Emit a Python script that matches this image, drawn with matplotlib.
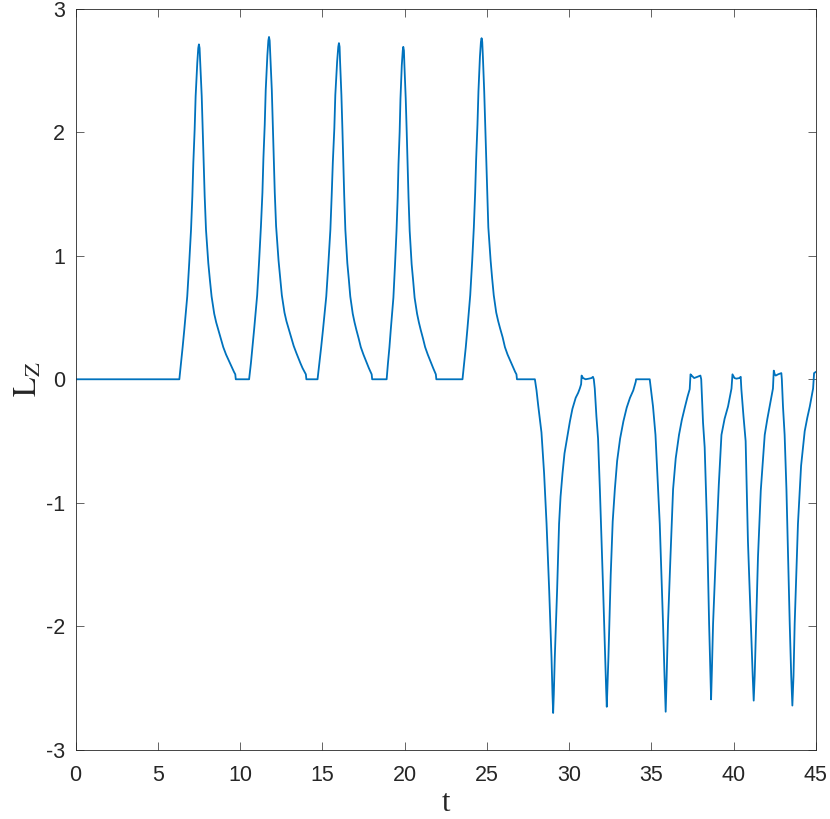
import numpy as np
import matplotlib
matplotlib.use('Agg')
import matplotlib.pyplot as plt

plt.rcParams['axes.unicode_minus'] = False
plt.rcParams['mathtext.fontset'] = 'stix'

# flat start + 5 positive spikes
t_pos = [0.00, 6.31,
         6.41, 6.51, 6.61, 6.79, 6.91, 7.02, 7.10, 7.16, 7.24, 7.30, 7.40, 7.46, 7.50,
         7.54, 7.58, 7.67, 7.73, 7.85, 7.93, 8.07, 8.27, 8.43, 8.68, 8.98, 9.39, 9.63, 9.71, 9.74,
         10.55, 10.66, 10.76, 10.86, 11.04, 11.16, 11.27, 11.36, 11.42, 11.50, 11.56, 11.66, 11.72, 11.76,
         11.80, 11.84, 11.93, 11.99, 12.11, 12.19, 12.34, 12.54, 12.70, 12.95, 13.26, 13.67, 13.92, 14.00, 14.03,
         14.71, 14.82, 14.93, 15.04, 15.24, 15.37, 15.49, 15.57, 15.64, 15.73, 15.79, 15.90, 15.97, 16.01,
         16.05, 16.08, 16.16, 16.22, 16.33, 16.40, 16.52, 16.70, 16.85, 17.07, 17.34, 17.71, 17.93, 18.00, 18.03,
         18.91, 18.99, 19.08, 19.16, 19.32, 19.42, 19.51, 19.58, 19.63, 19.70, 19.75, 19.83, 19.89, 19.92,
         19.96, 19.99, 20.07, 20.13, 20.24, 20.31, 20.43, 20.61, 20.76, 20.98, 21.25, 21.62, 21.84, 21.90, 21.93,
         23.52, 23.62, 23.72, 23.82, 23.99, 24.11, 24.21, 24.29, 24.35, 24.43, 24.49, 24.58, 24.64, 24.68,
         24.72, 24.76, 24.84, 24.90, 25.02, 25.09, 25.23, 25.42, 25.57, 25.81, 26.10, 26.49, 26.72, 26.80, 26.83,
         27.92]
L_pos = [0.00, 0.00,
         0.13, 0.26, 0.40, 0.67, 0.94, 1.21, 1.48, 1.75, 2.02, 2.29, 2.56, 2.68, 2.71,
         2.68, 2.56, 2.29, 2.02, 1.48, 1.21, 0.94, 0.67, 0.53, 0.40, 0.26, 0.13, 0.06, 0.04, 0.00,
         0.00, 0.13, 0.27, 0.41, 0.68, 0.96, 1.24, 1.51, 1.79, 2.06, 2.34, 2.62, 2.74, 2.77,
         2.74, 2.62, 2.34, 2.06, 1.51, 1.24, 0.96, 0.68, 0.54, 0.41, 0.27, 0.13, 0.06, 0.04, 0.00,
         0.00, 0.13, 0.26, 0.40, 0.67, 0.94, 1.21, 1.49, 1.76, 2.03, 2.30, 2.57, 2.69, 2.72,
         2.69, 2.57, 2.30, 2.03, 1.49, 1.21, 0.94, 0.67, 0.53, 0.40, 0.26, 0.13, 0.06, 0.04, 0.00,
         0.00, 0.13, 0.26, 0.40, 0.66, 0.93, 1.20, 1.47, 1.74, 2.00, 2.27, 2.54, 2.66, 2.69,
         2.66, 2.54, 2.27, 2.00, 1.47, 1.20, 0.93, 0.66, 0.53, 0.40, 0.26, 0.13, 0.06, 0.04, 0.00,
         0.00, 0.13, 0.26, 0.41, 0.68, 0.96, 1.23, 1.51, 1.78, 2.06, 2.33, 2.61, 2.73, 2.76,
         2.73, 2.61, 2.33, 2.06, 1.51, 1.23, 0.96, 0.68, 0.54, 0.41, 0.26, 0.13, 0.06, 0.04, 0.00,
         0.00]

# extra readings on the slow tails of the positive spikes
t_tail = [8.17, 8.55, 8.83, 9.15, 9.52,
          12.44, 12.82, 13.10, 13.43, 13.80,
          16.61, 16.96, 17.21, 17.50, 17.83,
          20.52, 20.87, 21.12, 21.41, 21.74,
          25.32, 25.69, 25.96, 26.26, 26.62]
L_tail = [0.80, 0.46, 0.33, 0.20, 0.09,
          0.82, 0.47, 0.34, 0.21, 0.09,
          0.81, 0.46, 0.33, 0.20, 0.09,
          0.80, 0.46, 0.33, 0.20, 0.09,
          0.82, 0.47, 0.34, 0.20, 0.09]

# 6 negative spikes
t_neg = [28.02, 28.12, 28.32, 28.48, 28.63, 28.79, 28.93, 28.99, 29.03, 29.07, 29.13, 29.27, 29.39,
         29.48, 29.60, 29.72, 29.90, 30.05, 30.20, 30.40, 30.55, 30.65, 30.73, 30.76, 30.85, 31.00,
         31.20, 31.36, 31.45, 31.50,
         31.56, 31.66, 31.76, 31.87, 32.07, 32.19, 32.25, 32.29, 32.33, 32.39, 32.53, 32.65, 32.78,
         32.92, 33.10, 33.30, 33.50, 33.70, 33.90, 34.05, 34.07, 34.90,
         35.10, 35.25, 35.51, 35.71, 35.80, 35.87, 35.93, 36.01, 36.16, 36.32, 36.48, 36.68, 36.85,
         37.03, 37.20, 37.33, 37.38, 37.45, 37.60, 37.80, 37.98, 38.03,
         38.14, 38.24, 38.38, 38.51, 38.58, 38.63, 38.68, 38.75, 38.95, 39.10, 39.26, 39.45, 39.66,
         39.87, 39.93, 40.05, 40.17, 40.35, 40.43, 40.47,
         40.60, 40.73, 40.87, 41.08, 41.16, 41.22, 41.28, 41.34, 41.48, 41.65, 41.89, 42.05, 42.19,
         42.39, 42.44, 42.50, 42.56, 42.70, 42.90, 42.93,
         43.00, 43.10, 43.21, 43.41, 43.50, 43.57, 43.64, 43.71, 43.91, 44.10, 44.32, 44.48, 44.63,
         44.83, 44.89, 45.00]
L_neg = [-0.09, -0.21, -0.43, -0.76, -1.17, -1.71, -2.25, -2.55, -2.70, -2.55, -2.25, -1.71, -1.17,
         -0.95, -0.76, -0.60, -0.46, -0.34, -0.24, -0.15, -0.11, -0.075, -0.04, 0.03, 0.01, 0.00,
         0.005, 0.01, 0.02, 0.00,
         -0.075, -0.30, -0.48, -0.89, -1.71, -2.25, -2.50, -2.65, -2.50, -2.25, -1.58, -1.15, -0.89,
         -0.66, -0.48, -0.34, -0.23, -0.15, -0.09, -0.02, 0.00, 0.00,
         -0.22, -0.45, -1.17, -1.98, -2.40, -2.69, -2.40, -1.98, -1.44, -0.89, -0.64, -0.45, -0.33,
         -0.23, -0.14, -0.08, 0.04, 0.03, 0.01, 0.02, 0.03, 0.00,
         -0.35, -0.55, -1.17, -1.98, -2.35, -2.59, -2.35, -1.98, -1.31, -0.85, -0.45, -0.32, -0.22,
         -0.075, 0.04, 0.01, 0.005, 0.01, 0.02, -0.08,
         -0.30, -0.50, -1.31, -2.11, -2.40, -2.60, -2.40, -2.11, -1.44, -0.90, -0.45, -0.32, -0.22,
         -0.075, 0.07, 0.04, 0.03, 0.04, 0.05, 0.00,
         -0.22, -0.45, -0.89, -1.98, -2.40, -2.64, -2.40, -1.98, -1.17, -0.70, -0.42, -0.31, -0.22,
         -0.075, 0.05, 0.06]

t = np.array(t_pos + t_tail + t_neg)
L = np.array(L_pos + L_tail + L_neg)
order = np.argsort(t, kind='stable')
t, L = t[order], L[order]

x_ticks = [0, 5, 10, 15, 20, 25, 30, 35, 40, 45]
y_ticks = [-3, -2, -1, 0, 1, 2, 3]

fig = plt.figure(figsize=(8.3, 8.19), dpi=100)
ax = fig.add_axes([0.091, 0.0842, 0.892, 0.9054])
ax.plot(t, L, color='#0072BD', lw=1.3)

ax.set_xlim(0, 45)
ax.set_ylim(-3, 3)
ax.set_xticks(x_ticks)
ax.set_yticks(y_ticks)
ax.set_xticklabels([str(v) for v in x_ticks], family='Liberation Sans')
ax.set_yticklabels([str(v) for v in y_ticks], family='Liberation Sans')
ax.tick_params(direction='in', length=5.5, width=0.5, color='#262626',
               labelsize=15.5, labelcolor='#262626', top=True, right=True)
ax.tick_params(axis='x', pad=11)
ax.tick_params(axis='y', pad=7.5)
for s in ax.spines.values():
    s.set_linewidth(0.6)
    s.set_color('#262626')

ax.set_xlabel('t', family='Liberation Serif', fontsize=22, color='#262626', labelpad=2)
ax.set_ylabel(r'$\mathrm{L_Z}$', fontsize=23, color='#262626', labelpad=2)

fig.savefig('out.png', dpi=100)
